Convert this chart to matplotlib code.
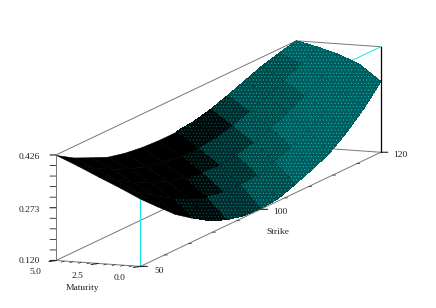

import matplotlib
matplotlib.use("Agg")
import matplotlib.pyplot as plt
import numpy as np
from mpl_toolkits.mplot3d import proj3d

# valores
strikes = [50, 55, 60, 65, 70, 75, 80, 85, 90, 95, 100, 105, 110, 115, 120]
maturities = [0.0, 1.25, 2.5, 3.75, 5.0]
vol_m0 = [.316, .270, .225, .190, .158, .137, .125, .122, .127, .145, .165, .188, .225, .270, .325]
vol_m1 = [.345, .310, .275, .245, .220, .200, .190, .187, .192, .207, .226, .250, .280, .320, .370]
vol_m2 = [.372, .340, .310, .285, .265, .250, .242, .240, .245, .258, .275, .297, .323, .355, .395]
vol_m3 = [.400, .370, .343, .320, .303, .292, .286, .285, .290, .302, .320, .340, .362, .387, .412]
vol_m4 = [.426, .395, .372, .350, .338, .331, .328, .328, .333, .345, .362, .381, .400, .414, .426]

z_ticks = [0.426, 0.273, 0.120]
mat_ticks = [5.0, 2.5, 0.0]
# la etiqueta central dice 100 aunque esta en la mitad del eje
strike_pos = [50, 85, 120]
strike_labels = ['50', '100', '120']

plt.rcParams['font.family'] = ['Liberation Serif', 'DejaVu Serif']
plt.rcParams['hatch.linewidth'] = 0.3

GREY = '#777777'
CYAN = '#19e6e6'

fig = plt.figure(figsize=(4.36, 3.08), dpi=100)
# eje cuadrado mas grande que la figura, para que no recorte la caja
ax = fig.add_axes([-5.5 / 436, (308 - 436) / 2 / 308 - 5.5 / 308, 1, 436 / 308],
                  projection='3d', computed_zorder=False)
ax.set_proj_type('ortho')
ax.view_init(elev=10.5, azim=-69)
ax.set_box_aspect((91, 675, 108), zoom=1.526)
ax.set_xlim(5.0, 0.0)
ax.set_ylim(50, 120)
ax.set_zlim(0.120, 0.426)
ax.margins(0)
ax.set_axis_off()

X, Y = np.meshgrid(maturities, strikes)
Z = np.column_stack((vol_m0, vol_m1, vol_m2, vol_m3, vol_m4))

z0, z1 = 0.120, 0.426
m0, m1 = 5.0, 0.0
s0, s1 = 50, 120


def edge(p, q, color=GREY, lw=0.7, zo=1):
    ax.plot([p[0], q[0]], [p[1], q[1]], [p[2], q[2]], color=color, lw=lw, zorder=zo)


# caja detras de la superficie
edge((m0, s0, z0), (m0, s1, z0))
edge((m0, s1, z0), (m1, s1, z0))
edge((m0, s0, z1), (m0, s1, z1))
edge((m0, s1, z1), (m1, s1, z1))
edge((m1, s0, z1), (m1, s1, z1), color=CYAN)
edge((m1, s0, z0), (m1, s0, z1), color=CYAN, lw=0.9)

# superficie, de atras hacia adelante
zo = 10
for j in range(len(strikes) - 2, -1, -1):
    for i in range(len(maturities) - 1):
        sx = 139 + 3.457 * (strikes[j] + 2.5 - 50) - 17 * (maturities[i] + 0.625)
        if sx < 188:
            col, hat, hc = 'black', None, 'black'
        elif sx < 212:
            col, hat, hc = '#000808', '.....', '#006c6c'
        elif sx < 245:
            col, hat, hc = '#002e2e', '.....', '#009a9a'
        elif sx < 285:
            col, hat, hc = '#004a4a', '.....', '#00c8c8'
        else:
            col, hat, hc = '#005c5c', '.....', '#00d2d2'
        s = ax.plot_surface(X[j:j+2, i:i+2], Y[j:j+2, i:i+2], Z[j:j+2, i:i+2], color=col,
                            shade=False, linewidth=0, antialiased=False, zorder=zo)
        s.set_edgecolor(hc)
        s.set_linewidth(0.4 if hat is None else 0)
        if hat:
            s.set_hatch(hat)
        zo += 1

# caja por delante
front = zo + 1
edge((m0, s0, z0), (m1, s0, z0), zo=front)
edge((m1, s0, z0), (m1, s1, z0), zo=front)
edge((m1, s1, z0), (m1, s1, z1), color='black', lw=0.9, zo=front)
edge((m0, s0, z0), (m0, s0, z1), zo=front)

# marcas
dz = (z1 - z0) / 10
dm = (m0 - m1) / 10
ds = (s1 - s0) / 10
M = ax.get_proj()


def px(x, y, z):
    a, b, _ = proj3d.proj_transform(x, y, z, M)
    return a, b


def tick(x, y, z, dx, dy, lw):
    a, b = px(x, y, z)
    ax.annotate('', (a, b), xytext=(dx, dy), textcoords='offset pixels',
                arrowprops=dict(arrowstyle='-', color='#222222', lw=lw, shrinkA=0, shrinkB=0),
                zorder=front)


for k in range(11):
    major = k % 5 == 0
    tick(m0, s0, z0 + k * dz, -6, 0, 0.8 if major else 0.6)
    tick(m0 - k * dm, s0, z0, -3 if not major else -7, -1, 0.8 if major else 0.5)
    tick(m1, s0 + k * ds, z0, 3 if not major else 7, 0, 0.8 if major else 0.5)


def label(x, y, z, txt, dx, dy):
    ax.annotate(txt, px(x, y, z), xytext=(dx, dy), textcoords='offset pixels',
                ha='center', va='center', fontsize=6.8, color='#222222', zorder=front)


label(m0, s0, z_ticks[0], '0.426', -27, -2)
label(m0, s0, z_ticks[1], '0.273', -27, -2)
label(m0, s0, z_ticks[2], '0.120', -27, -1)
label(mat_ticks[0], s0, z0, '5.0', -21, -12)
label(mat_ticks[1], s0, z0, '2.5', -21, -13)
label(mat_ticks[2], s0, z0, '0.0', -21, -12)
label(m1, strike_pos[0], z0, strike_labels[0], 19, -5)
label(m1, strike_pos[1], z0, strike_labels[1], 20, -3)
label(m1, strike_pos[2], z0, strike_labels[2], 19, -3)
label(m1, strike_pos[1], z0, 'Strike', 17, -23)
label(2.5, s0, z0, 'Maturity', -16, -25)

fig.savefig('out.png', dpi=100)
